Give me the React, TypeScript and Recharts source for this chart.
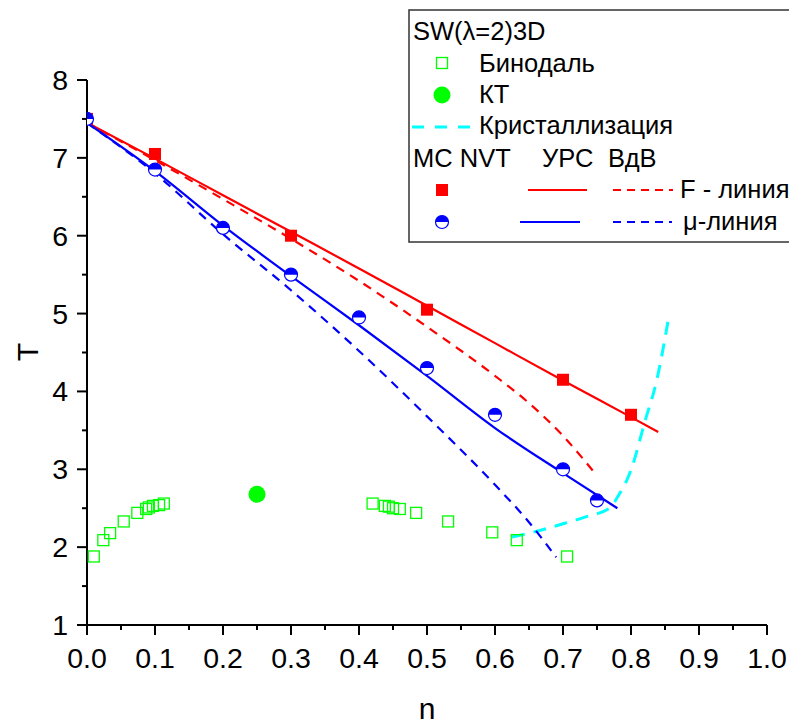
import { ComposedChart, Line, Scatter, XAxis, YAxis } from "recharts";

// axis ticks
const xMajor = [0, 0.1, 0.2, 0.3, 0.4, 0.5, 0.6, 0.7, 0.8, 0.9, 1.0];
const xMinor = [0.05, 0.15, 0.25, 0.35, 0.45, 0.55, 0.65, 0.75, 0.85, 0.95];
const yMajor = [1, 2, 3, 4, 5, 6, 7, 8];
const yMinor = [1.5, 2.5, 3.5, 4.5, 5.5, 6.5, 7.5];

// MC NVT points
const mcFn = [0, 0.1, 0.3, 0.5, 0.7, 0.8];
const mcFT = [7.5, 7.05, 6.0, 5.05, 4.15, 3.7];
const mcMuN = [0, 0.1, 0.2, 0.3, 0.4, 0.5, 0.6, 0.7, 0.75];
const mcMuT = [7.5, 6.85, 6.1, 5.5, 4.95, 4.3, 3.7, 3.0, 2.6];

// УРС lines
const eosFn = [0, 0.1, 0.2, 0.3, 0.4, 0.5, 0.6, 0.7, 0.8, 0.84];
const eosFT = [7.45, 6.99, 6.52, 6.05, 5.58, 5.1, 4.62, 4.14, 3.67, 3.48];
const eosMuN = [0, 0.1, 0.2, 0.3, 0.4, 0.5, 0.6, 0.7, 0.78];
const eosMuT = [7.45, 6.83, 6.13, 5.48, 4.85, 4.2, 3.53, 2.95, 2.5];

// ВдВ lines
const vdwFn = [0, 0.1, 0.2, 0.3, 0.4, 0.5, 0.6, 0.65, 0.7, 0.745];
const vdwFT = [7.45, 6.97, 6.47, 5.96, 5.42, 4.83, 4.2, 3.85, 3.43, 2.97];
const vdwMuN = [0, 0.1, 0.2, 0.3, 0.4, 0.5, 0.6, 0.65, 0.69];
const vdwMuT = [7.45, 6.8, 6.02, 5.3, 4.52, 3.68, 2.8, 2.32, 1.87];

// crystallization
const crystN = [0.625, 0.66, 0.7, 0.73, 0.77, 0.78, 0.8, 0.82, 0.838, 0.856];
const crystT = [2.13, 2.2, 2.3, 2.38, 2.51, 2.64, 2.99, 3.6, 4.15, 4.98];

// binodal
const binN = [0.01, 0.024, 0.034, 0.054, 0.074, 0.087, 0.091, 0.097, 0.106, 0.113,
  0.42, 0.438, 0.444, 0.45, 0.46, 0.484, 0.531, 0.596, 0.632, 0.706];
const binT = [1.88, 2.09, 2.18, 2.33, 2.44, 2.49, 2.51, 2.53, 2.54, 2.56,
  2.56, 2.53, 2.52, 2.5, 2.49, 2.44, 2.33, 2.19, 2.09, 1.88];

// critical point
const ktN = [0.25];
const ktT = [2.68];

const zip = (n: number[], t: number[]) => n.map((v, i) => ({ n: v, T: t[i] }));

const RED = "#ff0000";
const BLUE = "#0000ff";
const GREEN = "#00ff00";
const CYAN = "#00ffff";
const FONT = "'Liberation Sans', Arial, sans-serif";

const RedSquare = ({ cx, cy }: any) => (
  <rect x={cx - 6} y={cy - 6} width={12} height={12} fill={RED} />
);

const HalfCircle = ({ cx, cy }: any) => {
  const r = 6.5;
  return (
    <g>
      <circle cx={cx} cy={cy} r={r} fill="#fff" stroke={BLUE} strokeWidth={1.2} />
      <path d={`M${cx - r},${cy} A${r},${r} 0 0 1 ${cx + r},${cy} Z`} fill={BLUE} />
    </g>
  );
};

const OpenSquare = ({ cx, cy }: any) => (
  <rect x={cx - 5.5} y={cy - 5.5} width={11} height={11} fill="none" stroke={GREEN} strokeWidth={1.3} />
);

const GreenDot = ({ cx, cy }: any) => <circle cx={cx} cy={cy} r={8.5} fill={GREEN} />;

const isMajor = (v: number, step: number) => Math.abs(v / step - Math.round(v / step)) < 1e-6;

const XTick = ({ x, y, payload }: any) => {
  const major = isMajor(payload.value, 0.1);
  return (
    <g>
      <line x1={x} x2={x} y1={y} y2={y + (major ? 10 : 5)} stroke="#000" strokeWidth={2} />
      {major && (
        <text x={x} y={y + 43} textAnchor="middle" fontSize={28.5} fontFamily={FONT} fill="#000">
          {payload.value.toFixed(1)}
        </text>
      )}
    </g>
  );
};

const YTick = ({ x, y, payload }: any) => {
  const major = isMajor(payload.value, 1);
  return (
    <g>
      <line x1={x - (major ? 10 : 5)} x2={x} y1={y} y2={y} stroke="#000" strokeWidth={2} />
      {major && (
        <text x={x - 19} y={y + 10} textAnchor="end" fontSize={28.5} fontFamily={FONT} fill="#000">
          {payload.value}
        </text>
      )}
    </g>
  );
};

function LegendBox() {
  const txt = { fontSize: 25.5, fontFamily: FONT, fill: "#000" };
  return (
    <svg width={789} height={724} style={{ position: "absolute", left: 0, top: 0, pointerEvents: "none" }}>
      <text x={27} y={352} transform="rotate(-90 27 352)" textAnchor="middle" dominantBaseline="central" fontSize={30} fontFamily={FONT}>
        T
      </text>
      <text x={427} y={719} textAnchor="middle" fontSize={30} fontFamily={FONT}>
        n
      </text>
      <rect x={409} y={10} width={400} height={232} fill="#fff" stroke="#333" strokeWidth={1.5} />
      <text x={413} y={40} {...txt}>SW(λ=2)3D</text>
      <OpenSquare cx={442} cy={63} />
      <text x={479} y={72} {...txt}>Бинодаль</text>
      <GreenDot cx={442} cy={95} />
      <text x={479} y={103} {...txt}>КТ</text>
      <line x1={412} x2={470} y1={127} y2={127} stroke={CYAN} strokeWidth={3} strokeDasharray="12 11" />
      <text x={479} y={134} {...txt}>Кристаллизация</text>
      <text x={413} y={167} {...txt}>MC NVT</text>
      <text x={542} y={167} {...txt}>УРС</text>
      <text x={608} y={167} {...txt}>ВдВ</text>
      <RedSquare cx={442} cy={190} />
      <line x1={528} x2={587} y1={190} y2={190} stroke={RED} strokeWidth={2} />
      <line x1={613} x2={673} y1={190} y2={190} stroke={RED} strokeWidth={2} strokeDasharray="8 6" />
      <text x={680} y={198} {...txt}>F - линия</text>
      <HalfCircle cx={442} cy={222} />
      <line x1={520} x2={580} y1={222} y2={222} stroke={BLUE} strokeWidth={2} />
      <line x1={613} x2={672} y1={222} y2={222} stroke={BLUE} strokeWidth={2} strokeDasharray="8 6" />
      <text x={683} y={230} {...txt}>μ-линия</text>
    </svg>
  );
}

export default function App() {
  return (
    <div style={{ position: "absolute", left: 0, top: 0, width: 789, height: 724, background: "#fff" }}>
      <ComposedChart width={789} height={724} margin={{ top: 80, right: 22, bottom: 0, left: 0 }}>
        <XAxis
          type="number"
          dataKey="n"
          domain={[0, 1]}
          ticks={[...xMajor, ...xMinor]}
          interval={0}
          tick={<XTick />}
          tickLine={false}
          tickSize={0}
          tickMargin={0}
          height={99}
          axisLine={{ stroke: "#000", strokeWidth: 2 }}
          allowDataOverflow
        />
        <YAxis
          type="number"
          dataKey="T"
          domain={[1, 8]}
          ticks={[...yMajor, ...yMinor]}
          interval={0}
          tick={<YTick />}
          tickLine={false}
          tickSize={0}
          tickMargin={0}
          width={87}
          axisLine={{ stroke: "#000", strokeWidth: 2 }}
          allowDataOverflow
        />
        <Line data={zip(crystN, crystT)} dataKey="T" type="monotone" stroke={CYAN} strokeWidth={3} strokeDasharray="13 9" dot={false} isAnimationActive={false} />
        <Line data={zip(vdwFn, vdwFT)} dataKey="T" type="monotone" stroke={RED} strokeWidth={2.2} strokeDasharray="9 7" dot={false} isAnimationActive={false} />
        <Line data={zip(vdwMuN, vdwMuT)} dataKey="T" type="monotone" stroke={BLUE} strokeWidth={2.2} strokeDasharray="9 7" dot={false} isAnimationActive={false} />
        <Line data={zip(eosFn, eosFT)} dataKey="T" type="monotone" stroke={RED} strokeWidth={2.2} dot={false} isAnimationActive={false} />
        <Line data={zip(eosMuN, eosMuT)} dataKey="T" type="monotone" stroke={BLUE} strokeWidth={2.2} dot={false} isAnimationActive={false} />
        <Scatter data={zip(binN, binT)} dataKey="T" shape={<OpenSquare />} isAnimationActive={false} />
        <Scatter data={zip(ktN, ktT)} dataKey="T" shape={<GreenDot />} isAnimationActive={false} />
        <Scatter data={zip(mcFn, mcFT)} dataKey="T" shape={<RedSquare />} isAnimationActive={false} />
        <Scatter data={zip(mcMuN, mcMuT)} dataKey="T" shape={<HalfCircle />} isAnimationActive={false} />
      </ComposedChart>
      <LegendBox />
    </div>
  );
}
